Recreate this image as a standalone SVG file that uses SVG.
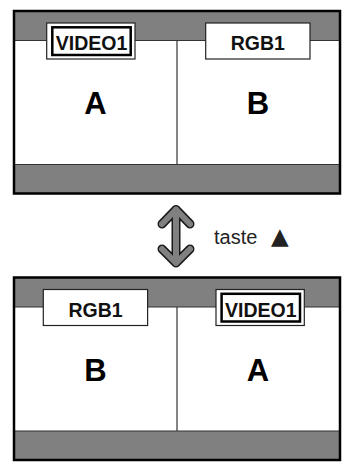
<svg xmlns="http://www.w3.org/2000/svg" width="342" height="462" viewBox="0 0 342 462">
<style>
.band{fill:#808080}
.screen{fill:#fff}
.rule{stroke:#333;stroke-width:1.2;fill:none}
.border{fill:none;stroke:#000;stroke-width:2.5}
.lbl{fill:#fff;stroke:#222;stroke-width:1.2}
.lblin{fill:none;stroke:#000;stroke-width:2.5}
.lt{font-family:"Liberation Sans",Arial,sans-serif;font-weight:bold;font-size:19.5px;text-anchor:middle;fill:#111}
.big{font-family:"Liberation Sans",Arial,sans-serif;font-weight:bold;font-size:31px;text-anchor:middle;fill:#000}
.cap{font-family:"Liberation Sans",Arial,sans-serif;font-size:20px;fill:#222}
.tri{font-family:"DejaVu Sans",sans-serif;font-size:23px}
</style>
<rect width="342" height="462" fill="#fff"/>
<g id="screen-top">
<rect class="band" x="14" y="11" width="326" height="182.5"/>
<rect class="screen" x="14" y="40.5" width="326" height="124"/>
<line class="rule" x1="14" y1="40.5" x2="340" y2="40.5"/>
<line class="rule" x1="14" y1="164.5" x2="340" y2="164.5"/>
<line class="rule" x1="177" y1="40.5" x2="177" y2="164.5"/>
<rect class="border" x="14" y="11" width="326" height="182.5"/>
<g id="top-video1">
<rect class="lbl" x="46.7" y="23" width="88.3" height="36"/>
<rect class="lblin" x="52.3" y="27.3" width="78.4" height="27.7"/>
<text class="lt" x="91.5" y="50">VIDEO1</text>
</g>
<g id="top-rgb1">
<rect class="lbl" x="205.7" y="23" width="104.3" height="36"/>
<text class="lt" x="257.8" y="50">RGB1</text>
</g>
<text class="big" x="95.5" y="114">A</text>
<text class="big" x="258" y="114">B</text>
</g>
<g id="connectors">
<path d="M162,224 L176,209.5 L190,224 M176,209.5 L176,263 M162,249 L176,263 L190,249" fill="none" stroke="#1a1a1a" stroke-width="9" stroke-linecap="round" stroke-linejoin="round"/>
<path d="M162,224 L176,209.5 L190,224 M176,209.5 L176,263 M162,249 L176,263 L190,249" fill="none" stroke="#808080" stroke-width="6" stroke-linecap="round" stroke-linejoin="round"/>
</g>
<g id="caption">
<text class="cap" x="214" y="244">taste <tspan class="tri" x="271">▲</tspan></text>
</g>
<g id="screen-bottom">
<rect class="band" x="14" y="277.5" width="326" height="182.5"/>
<rect class="screen" x="14" y="307" width="326" height="124"/>
<line class="rule" x1="14" y1="307" x2="340" y2="307"/>
<line class="rule" x1="14" y1="431" x2="340" y2="431"/>
<line class="rule" x1="177" y1="307" x2="177" y2="431"/>
<rect class="border" x="14" y="277.5" width="326" height="182.5"/>
<g id="bottom-rgb1">
<rect class="lbl" x="43.3" y="289.5" width="104.3" height="36"/>
<text class="lt" x="95.5" y="316.5">RGB1</text>
</g>
<g id="bottom-video1">
<rect class="lbl" x="216" y="289.5" width="88.3" height="36"/>
<rect class="lblin" x="221.6" y="293.8" width="78.4" height="27.7"/>
<text class="lt" x="260.8" y="316.5">VIDEO1</text>
</g>
<text class="big" x="95.5" y="380.5">B</text>
<text class="big" x="258" y="380.5">A</text>
</g>
</svg>
